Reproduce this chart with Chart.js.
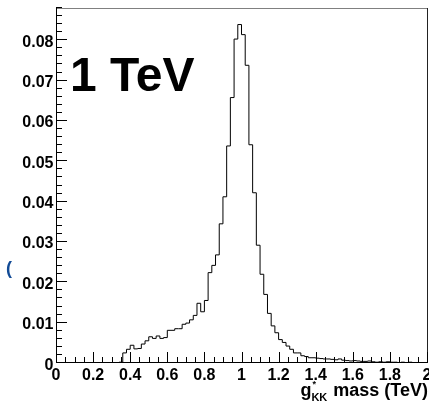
<!DOCTYPE html>
<html><head><meta charset="utf-8">
<script src="https://cdn.jsdelivr.net/npm/chart.js@4"></script>
<style>html,body{margin:0;padding:0;background:#fff;overflow:hidden}canvas{display:block}</style>
</head><body>
<canvas id="c" width="429" height="401"></canvas>
<script>
// ---- data ----
const binWidth = 0.02;   // TeV per bin, 100 bins from 0 to 2
const histValues = [
  0,0,0,0,0,0,0,0,0,0,
  0,0,0,0,0,0,0,0.0002,0.0025,0.0034,
  0.0044,0.0035,0.0036,0.0047,0.0055,0.0065,0.0061,0.0067,0.0061,0.0063,
  0.0081,0.0081,0.0085,0.0085,0.0096,0.0099,0.0107,0.0118,0.0148,0.0127,
  0.0155,0.0224,0.0242,0.0268,0.0345,0.0412,0.0538,0.0658,0.0803,0.0839,
  0.0814,0.0738,0.0541,0.0422,0.0292,0.0220,0.0170,0.0123,0.0092,0.0075,
  0.0058,0.0051,0.0042,0.0034,0.0025,0.0025,0.0018,0.0016,0.0013,0.0013,
  0.0012,0.0011,0.0010,0.0010,0.0009,0.0008,0.0010,0.0007,0.0006,0.0005,
  0.0006,0.0005,0.0004,0.0004,0.0005,0.0003,0.0002,0.0003,0.0002,0.0003,
  0.0002,0.0002,0.0001,0.0002,0.0001,0.0002,0.0001,0.0001,0.0001,0.0001
];
const xTickValues = [0,0.2,0.4,0.6,0.8,1,1.2,1.4,1.6,1.8,2];
const xTickLabels = ["0","0.2","0.4","0.6","0.8","1","1.2","1.4","1.6","1.8","2"];
const yTickValues = [0,0.01,0.02,0.03,0.04,0.05,0.06,0.07,0.08];
const yTickLabels = ["0","0.01","0.02","0.03","0.04","0.05","0.06","0.07","0.08"];
const xMinorStep = 0.05;
const yMinorStep = 0.002;
const xRange = [0, 2];
const yRange = [0, 0.088];
const annotationText = "1 TeV";
const titleMain = "g";
const titleSup = "*";
const titleSub = "KK";
const titleRest = " mass (TeV)";
const strayGlyph = "(";

// ---- build points (left bin edges, value held to the right) ----
const points = histValues.map((v, i) => ({ x: i * binWidth, y: v }));
points.push({ x: histValues.length * binWidth, y: histValues[histValues.length - 1] });

const FONT = '"Liberation Sans", Arial, Helvetica, sans-serif';

const deco = {
  id: 'deco',
  afterDatasetsDraw(chart) {
    const { ctx, chartArea: a, scales: { x, y } } = chart;
    ctx.save();
    ctx.lineWidth = 1;
    // frame
    ctx.strokeStyle = '#808080';
    ctx.beginPath(); ctx.moveTo(a.left, a.top + 0.5); ctx.lineTo(a.right + 1, a.top + 0.5); ctx.stroke();
    ctx.strokeStyle = '#222';
    ctx.beginPath(); ctx.moveTo(a.right + 0.5, a.top); ctx.lineTo(a.right + 0.5, a.bottom); ctx.stroke();
    ctx.strokeStyle = '#000';
    ctx.beginPath(); ctx.moveTo(a.left + 0.5, a.top); ctx.lineTo(a.left + 0.5, a.bottom); ctx.stroke();
    ctx.beginPath(); ctx.moveTo(a.left, a.bottom - 0.5); ctx.lineTo(a.right + 1, a.bottom - 0.5); ctx.stroke();

    // y ticks (inside)
    const nY = Math.round((yRange[1] - yRange[0]) / yMinorStep);
    ctx.beginPath();
    for (let k = 0; k <= nY; k++) {
      const v = yRange[0] + k * yMinorStep;
      const py = Math.round(y.getPixelForValue(v)) - 0.5;
      const len = (k % 5 === 0) ? 10 : 5;
      ctx.moveTo(a.left, py); ctx.lineTo(a.left + 1 + len, py);
    }
    // x ticks (inside)
    const nX = Math.round((xRange[1] - xRange[0]) / xMinorStep);
    for (let k = 0; k <= nX; k++) {
      const v = xRange[0] + k * xMinorStep;
      const px = Math.round(x.getPixelForValue(v)) + 0.5;
      const len = (k % 4 === 0) ? 10 : 5;
      ctx.moveTo(px, a.bottom); ctx.lineTo(px, a.bottom - 1 - len);
    }
    ctx.stroke();

    // tick labels
    ctx.fillStyle = '#000';
    ctx.font = 'bold 16px ' + FONT;
    ctx.textAlign = 'right';
    ctx.textBaseline = 'alphabetic';
    yTickValues.forEach((v, i) => {
      ctx.fillText(yTickLabels[i], 53.5, y.getPixelForValue(v) + 6.5);
    });
    ctx.textAlign = 'center';
    xTickValues.forEach((v, i) => {
      ctx.fillText(xTickLabels[i], x.getPixelForValue(v), 380);
    });

    // axis title, right aligned to axis end
    const fMain = 'bold 18px ' + FONT;
    const fSmall = 'bold 11px ' + FONT;
    const fSup = 'bold 9px ' + FONT;
    ctx.textAlign = 'left';
    ctx.font = fMain; const wMain = ctx.measureText(titleMain).width;
    const wRest = ctx.measureText(titleRest).width;
    ctx.font = fSmall; const wSub = ctx.measureText(titleSub).width;
    const base = 396;
    let tx = a.right + 1 - wRest - wSub - wMain - 1;
    ctx.font = fMain; ctx.fillText(titleMain, tx, base);
    tx += wMain;
    ctx.font = fSup; ctx.fillText(titleSup, tx + 1, base - 9);
    ctx.font = fSmall; ctx.fillText(titleSub, tx, base + 5);
    tx += wSub + 1;
    ctx.font = fMain; ctx.fillText(titleRest, tx, base);

    // big annotation
    ctx.font = 'bold 48px ' + FONT;
    ctx.fillText(annotationText, 70, 91);

    // stray blue glyph at left edge
    ctx.fillStyle = '#124b96';
    ctx.font = 'bold 18px ' + FONT;
    ctx.fillText(strayGlyph, 6, 273.5);
    ctx.restore();
  }
};

new Chart(document.getElementById('c'), {
  type: 'line',
  data: {
    datasets: [{
      data: points,
      stepped: 'before',
      borderColor: '#000',
      borderWidth: 1,
      pointRadius: 0,
      fill: false,
      tension: 0
    }]
  },
  options: {
    responsive: false,
    animation: false,
    events: [],
    layout: { padding: { left: 56, top: 8, right: 2, bottom: 38 } },
    plugins: { legend: { display: false }, tooltip: { enabled: false } },
    scales: {
      x: {
        type: 'linear', min: xRange[0], max: xRange[1],
        grid: { display: false, drawTicks: false },
        border: { display: false },
        ticks: { display: false },
        afterFit(s) { s.height = 0; }
      },
      y: {
        type: 'linear', min: yRange[0], max: yRange[1],
        grid: { display: false, drawTicks: false },
        border: { display: false },
        ticks: { display: false },
        afterFit(s) { s.width = 0; }
      }
    }
  },
  plugins: [deco]
});
</script>
</body></html>
